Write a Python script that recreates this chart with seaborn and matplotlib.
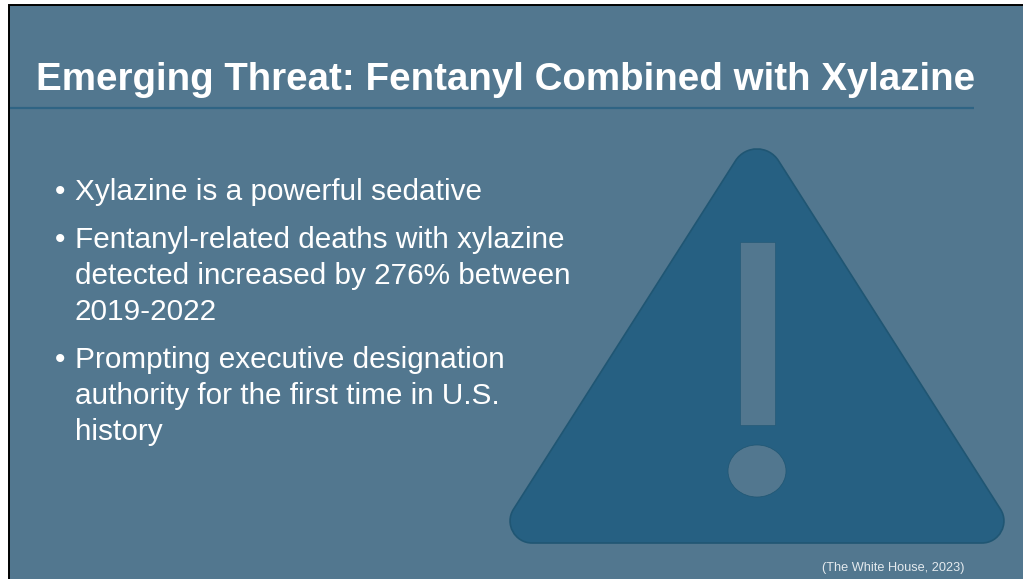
import matplotlib
matplotlib.use("Agg")
import matplotlib.pyplot as plt
import seaborn as sns
from matplotlib.patches import PathPatch, Rectangle, Ellipse
from matplotlib.path import Path
import numpy as np

title_text = "Emerging Threat: Fentanyl Combined with Xylazine"
bullet_lines = [
    ("•", 55, 200),
    ("Xylazine is a powerful sedative", 75, 200),
    ("•", 55, 248),
    ("Fentanyl-related deaths with xylazine", 75, 248),
    ("detected increased by 276% between", 75, 284),
    ("2019-2022", 75, 320),
    ("•", 55, 368),
    ("Prompting executive designation", 75, 368),
    ("authority for the first time in U.S.", 75, 404),
    ("history", 75, 440),
]
source_text = "(The White House, 2023)"

BG = "#52778f"
DARK = "#266082"
EDGE = "#205673"

sns.set_theme(style="white")
plt.rcParams["font.family"] = ["Liberation Sans", "DejaVu Sans"]

fig = plt.figure(figsize=(10.23, 5.79), dpi=100, facecolor="white")
ax = fig.add_axes([0, 0, 1, 1])
ax.set_xlim(0, 1023)
ax.set_ylim(579, 0)
ax.axis("off")

ax.add_patch(Rectangle((9, 5), 1030, 600, facecolor=BG, edgecolor="black", lw=1.4, zorder=1))
ax.plot([10, 974], [108, 108], color="#2f6484", lw=1.6, zorder=2, solid_capstyle="butt")


def rounded(verts, radii):
    n = len(verts)
    codes, pts = [], []
    for i in range(n):
        v = np.array(verts[i], float)
        a = np.array(verts[i - 1], float)
        b = np.array(verts[(i + 1) % n], float)
        ua = (a - v) / np.linalg.norm(a - v)
        ub = (b - v) / np.linalg.norm(b - v)
        half = np.arccos(np.dot(ua, ub)) / 2
        d = radii[i] / np.tan(half)
        p0 = v + ua * d
        p3 = v + ub * d
        sweep = np.pi - 2 * half
        k = 4 / 3 * np.tan(sweep / 4) * radii[i]
        p1 = p0 - ua * k
        p2 = p3 - ub * k
        codes += [Path.MOVETO if i == 0 else Path.LINETO, Path.CURVE4, Path.CURVE4, Path.CURVE4]
        pts += [p0, p1, p2, p3]
    codes.append(Path.CLOSEPOLY)
    pts.append(pts[0])
    return Path(pts, codes)


tri = rounded([(492, 543), (757, 127), (1022, 543)], [22, 25.5, 22])
ax.add_patch(PathPatch(tri, facecolor=DARK, edgecolor=EDGE, lw=1.2, zorder=3))
ax.add_patch(Rectangle((740, 242), 35, 183, facecolor=BG, edgecolor=EDGE, lw=0.4, zorder=4))
ax.add_patch(Ellipse((757, 471), 58, 52, facecolor=BG, edgecolor=EDGE, lw=0.5, zorder=4))

ax.text(36, 90, title_text, fontsize=27.7, fontweight="bold", color="white",
        ha="left", va="baseline", zorder=5)
for s, x, y in bullet_lines:
    ax.text(x, y, s, fontsize=21.4, color="white", ha="left", va="baseline", zorder=5)
ax.text(822, 571, source_text, fontsize=9.2, color="#e4eaee", ha="left", va="baseline", zorder=5)

fig.savefig("out.png", dpi=100, facecolor="white")
